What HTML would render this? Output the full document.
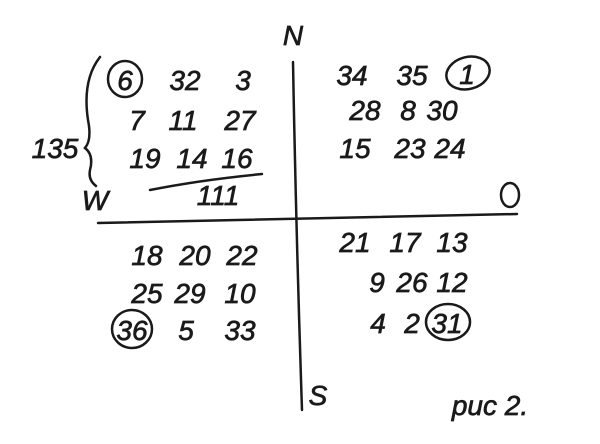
<!DOCTYPE html>
<html><head><meta charset="utf-8"><style>
html,body{margin:0;padding:0;background:#fff;}
svg{display:block;}
text{font-family:"Liberation Sans","DejaVu Sans",sans-serif;font-style:italic;fill:#1a1a1a;stroke:#1a1a1a;stroke-width:0.7;font-size:28px;text-anchor:middle;}
</style></head><body>
<svg width="600" height="444" viewBox="0 0 600 444" xmlns="http://www.w3.org/2000/svg">
<g stroke="#1a1a1a" stroke-width="2.5" fill="none" stroke-linecap="round">
<path d="M293 62 Q296 230 302 410"/>
<path d="M98 223 Q300 218 517 214"/>
<path d="M150 190 Q200 180 262 174"/>
<path d="M100 57 Q82 80 88 120 Q92 140 85 148 Q94 155 90 170 Q88 180 96 186"/>
<ellipse cx="125" cy="79" rx="17" ry="18"/>
<ellipse cx="468" cy="73" rx="22" ry="16" transform="rotate(-15 468 73)"/>
<ellipse cx="510" cy="195" rx="9" ry="12"/>
<ellipse cx="132" cy="329" rx="20" ry="19"/>
<ellipse cx="448" cy="322" rx="22" ry="18"/>
</g>
<text x="293" y="45">N</text>
<text x="95" y="210">W</text>
<text x="318" y="405">S</text>
<text x="490" y="415" font-size="32">рис 2.</text>
<text x="55" y="158" font-size="22">135</text>

<text x="125" y="90">6</text><text x="185" y="90">32</text><text x="243" y="90">3</text>
<text x="137" y="130">7</text><text x="183" y="130">11</text><text x="240" y="130">27</text>
<text x="145" y="168">19</text><text x="192" y="168">14</text><text x="237" y="168">16</text>
<text x="218" y="205" font-size="20">111</text>

<text x="352" y="85">34</text><text x="412" y="85">35</text><text x="467" y="84">1</text>
<text x="365" y="120">28</text><text x="408" y="120">8</text><text x="442" y="120">30</text>
<text x="355" y="158">15</text><text x="410" y="158">23</text><text x="450" y="158">24</text>

<text x="147" y="265">18</text><text x="195" y="265">20</text><text x="242" y="265">22</text>
<text x="147" y="303">25</text><text x="190" y="303">29</text><text x="240" y="303">10</text>
<text x="132" y="340">36</text><text x="186" y="340">5</text><text x="240" y="340">33</text>

<text x="355" y="252">21</text><text x="405" y="252">17</text><text x="452" y="252">13</text>
<text x="377" y="292">9</text><text x="412" y="292">26</text><text x="452" y="292">12</text>
<text x="378" y="333">4</text><text x="412" y="333">2</text><text x="447" y="333">31</text>
</svg>
</body></html>
